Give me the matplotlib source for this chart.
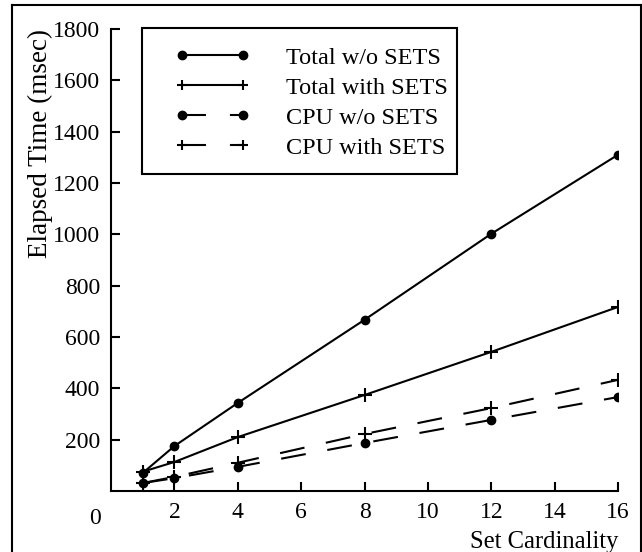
import matplotlib
matplotlib.use("Agg")
import matplotlib.pyplot as plt
from matplotlib.patches import Rectangle
from matplotlib.lines import Line2D

plt.rcParams['font.family'] = ['Liberation Serif', 'DejaVu Serif']
plt.rcParams['font.size'] = 17

# set cardinality on x, elapsed time (msec) on y
cardinality = [1, 2, 4, 8, 12, 16]
total_wo_sets = [70, 175, 343, 667, 1002, 1310]
total_with_sets = [75, 113, 210, 374, 542, 717]
cpu_wo_sets = [31, 50, 94, 187, 277, 366]
cpu_with_sets = [31, 55, 110, 222, 323, 433]

labels = ['Total w/o SETS', 'Total with SETS', 'CPU w/o SETS', 'CPU with SETS']
xticks = [2, 4, 6, 8, 10, 12, 14, 16]
yticks = [200, 400, 600, 800, 1000, 1200, 1400, 1600, 1800]

fig = plt.figure(figsize=(6.42, 5.52), dpi=100)
ax = fig.add_axes([111 / 642, 61 / 552, 507 / 642, 462 / 552])

dash = (0, (12, 10.5))
ax.plot(cardinality, total_wo_sets, color='black', lw=1.5, marker='o', ms=6,
        label=labels[0])
ax.plot(cardinality, total_with_sets, color='black', lw=1.5, marker='+', ms=10,
        mew=1.5, label=labels[1])
ax.plot(cardinality, cpu_wo_sets, color='black', lw=1.5, ls=dash, marker='o', ms=6,
        label=labels[2])
ax.plot(cardinality, cpu_with_sets, color='black', lw=1.5, ls=dash, marker='+', ms=10,
        mew=1.5, label=labels[3])

ax.set_xlim(0, 16)
ax.set_ylim(0, 1800)
ax.set_xticks(xticks)
ax.set_yticks(yticks)
for s in ['top', 'right']:
    ax.spines[s].set_visible(False)
for s in ['left', 'bottom']:
    ax.spines[s].set_linewidth(1.5)
ax.tick_params(direction='in', length=6.5, width=1.5, pad=8)

# the lone "0" sits left of the axis corner
ax.annotate('0', xy=(0, 0), xycoords='data', xytext=(-16, -27),
            textcoords='offset pixels', ha='center', va='center')

ax.set_ylabel('Elapsed Time (msec)', loc='top', labelpad=0, fontsize=19.5)
ax.set_xlabel('Set Cardinality', loc='right', labelpad=5.5, fontsize=17.7)

leg = ax.legend(loc='upper left', bbox_to_anchor=(0.0975, 0.993), borderaxespad=0,
                frameon=False, handlelength=3.09, handletextpad=1.48,
                borderpad=0.6, labelspacing=0.33, numpoints=2, fontsize=17.5)
for h in leg.legend_handles:
    if h.get_marker() == '+':
        h.set_markersize(7)
    if h.get_linestyle() != '-':
        h.set_linestyle((0, (11.5, 11.5)))

fig.canvas.draw()
bb = leg.get_window_extent()
fig.add_artist(Rectangle((bb.x0 - 18, bb.y0), bb.width + 12, bb.height + 4,
                         transform=None, fill=False, edgecolor='black', lw=1.5))

# outer frame (bottom edge falls outside the picture)
for xs, ys in [([12, 12], [-5, 547]), ([12, 641], [547, 547]), ([641, 641], [547, -5])]:
    fig.add_artist(Line2D(xs, ys, transform=None, color='black', lw=1.5))

fig.savefig('out.png', dpi=100)
